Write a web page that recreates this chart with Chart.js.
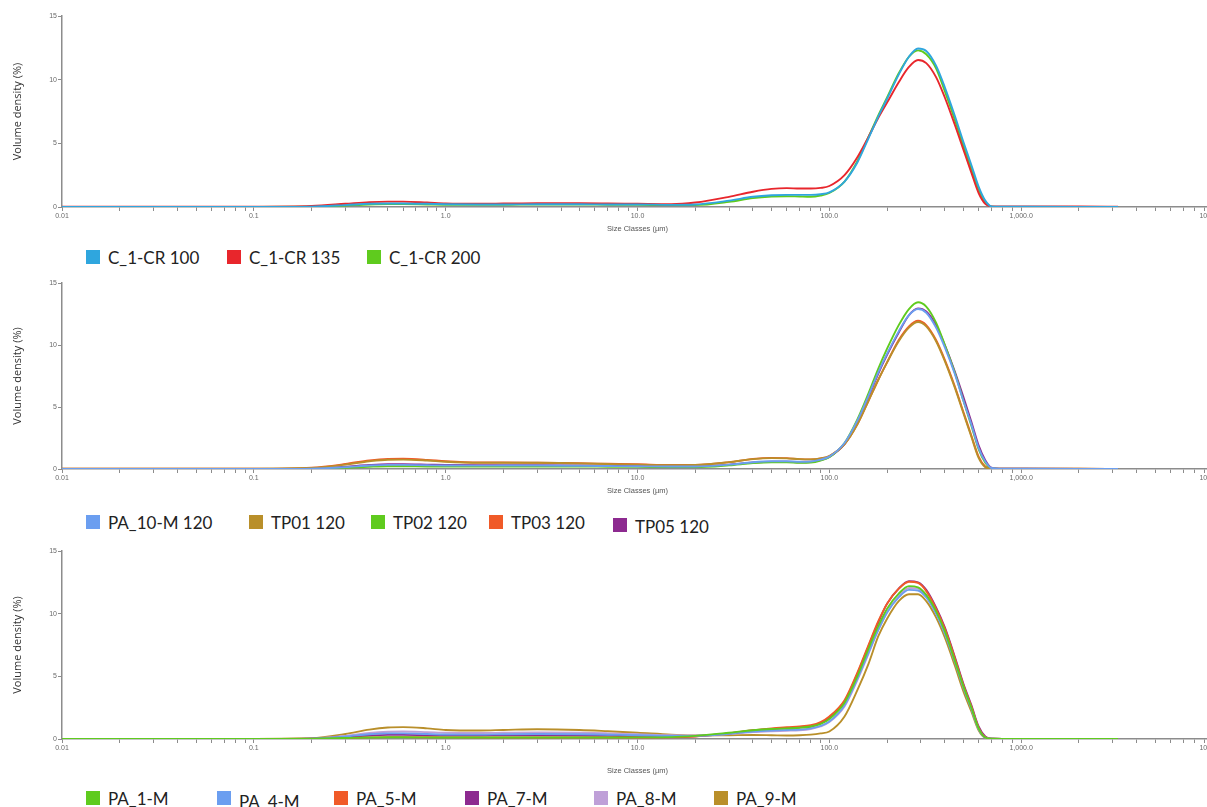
<!DOCTYPE html>
<html>
<head>
<meta charset="utf-8">
<script src="https://cdn.jsdelivr.net/npm/chart.js@4"></script>
<style>
  body { margin: 0; width: 1207px; height: 807px; overflow: hidden; background: #fff; position: relative; }
  .box { position: absolute; left: 0; }
  .legend { position: absolute; left: 0; width: 1207px; height: 22px; font-family: "Lato", "Open Sans", sans-serif; }
  .item { position: absolute; top: 0; height: 22px; display: flex; align-items: center; font-size: 17px; color: #222; white-space: nowrap; }
  .item .sw { width: 14px; height: 14px; margin-right: 8px; display: inline-block; }
  .item .tx { position: relative; }
</style>
</head>
<body>
<div class="box" style="top:6px"><canvas id="chart1" width="1240" height="237"></canvas></div>
<div class="legend" id="legend1" style="top:246px"></div>
<div class="box" style="top:273px"><canvas id="chart2" width="1240" height="232"></canvas></div>
<div class="legend" id="legend2" style="top:511px"></div>
<div class="box" style="top:541px"><canvas id="chart3" width="1240" height="234"></canvas></div>
<div class="legend" id="legend3" style="top:787px"></div>

<script>
// size classes (µm)
const sizes = [0.01, 0.1, 0.2, 0.3, 0.4, 0.5, 0.6, 0.8, 1, 1.5, 2, 3, 5, 7, 10, 15, 20, 30, 40, 50, 60, 70, 80, 90,
  100, 120, 140, 160, 180, 200, 230, 260, 290, 320, 360, 400, 450, 500, 550, 600, 650, 700, 800, 1000, 2000, 3200];

const xDecades = [0.01, 0.1, 1, 10, 100, 1000, 10000];
const xTickLabels = ["0.01", "0.1", "1.0", "10.0", "100.0", "1,000.0", "10,000.0"];
const yTicks = [0, 5, 10, 15];

// Chart 1
const labels1 = ["C_1-CR 100", "C_1-CR 135", "C_1-CR 200"];
const c1cr100 = [0, 0, 0.03, 0.15, 0.25, 0.28, 0.28, 0.25, 0.22, 0.2, 0.2, 0.22, 0.22, 0.2, 0.2, 0.17, 0.2, 0.5, 0.8, 0.92, 0.95, 0.95, 0.95, 1.0,
  1.15, 2.0, 3.5, 5.4, 7.1, 8.5, 10.4, 11.8, 12.45, 12.25, 11.1, 9.4, 7.2, 5.1, 3.3, 1.6, 0.5, 0.05, 0.02, 0.02, 0.01, 0];
const c1cr135 = [0.03, 0.03, 0.08, 0.25, 0.38, 0.42, 0.42, 0.35, 0.28, 0.25, 0.27, 0.3, 0.3, 0.28, 0.25, 0.22, 0.35, 0.8, 1.2, 1.42, 1.48, 1.45, 1.45, 1.5,
  1.65, 2.5, 3.9, 5.5, 7.0, 8.2, 9.8, 11.0, 11.55, 11.3, 10.2, 8.6, 6.5, 4.5, 2.7, 1.1, 0.25, 0.05, 0.04, 0.04, 0.04, 0.03];
const c1cr200 = [0, 0, 0.02, 0.12, 0.2, 0.23, 0.23, 0.2, 0.18, 0.17, 0.17, 0.2, 0.2, 0.18, 0.17, 0.15, 0.15, 0.4, 0.7, 0.82, 0.85, 0.82, 0.8, 0.9,
  1.1, 2.0, 3.6, 5.5, 7.2, 8.6, 10.5, 11.8, 12.3, 12.0, 10.9, 9.1, 6.9, 4.8, 3.0, 1.4, 0.4, 0.03, 0.01, 0.01, 0, 0];

// Chart 2
const labels2 = ["PA_10-M 120", "TP01 120", "TP02 120", "TP03 120", "TP05 120"];
const pa10m120 = [0, 0, 0.03, 0.15, 0.28, 0.33, 0.33, 0.3, 0.28, 0.27, 0.28, 0.28, 0.26, 0.24, 0.22, 0.2, 0.2, 0.35, 0.55, 0.62, 0.62, 0.58, 0.6, 0.75,
  1.0, 2.1, 3.9, 5.9, 7.8, 9.3, 11.1, 12.4, 12.9, 12.6, 11.4, 9.8, 7.7, 5.5, 3.6, 1.7, 0.6, 0.08, 0.02, 0.02, 0.01, 0];
const tp01 = [0.02, 0.02, 0.08, 0.35, 0.62, 0.75, 0.76, 0.68, 0.58, 0.5, 0.5, 0.5, 0.45, 0.4, 0.35, 0.3, 0.32, 0.55, 0.8, 0.88, 0.86, 0.8, 0.78, 0.85,
  1.05, 2.0, 3.6, 5.5, 7.2, 8.6, 10.3, 11.4, 11.85, 11.5, 10.3, 8.7, 6.6, 4.5, 2.6, 0.9, 0.15, 0.03, 0.02, 0.02, 0.02, 0.01];
const tp02 = [0, 0, 0.02, 0.1, 0.18, 0.22, 0.22, 0.2, 0.2, 0.2, 0.2, 0.2, 0.2, 0.18, 0.17, 0.15, 0.15, 0.3, 0.48, 0.55, 0.55, 0.5, 0.52, 0.68,
  0.95, 2.1, 4.0, 6.1, 8.1, 9.7, 11.6, 12.9, 13.45, 13.1, 11.8, 10.0, 7.8, 5.5, 3.5, 1.6, 0.5, 0.05, 0.01, 0.01, 0, 0];
const tp03 = [0.02, 0.02, 0.1, 0.4, 0.7, 0.82, 0.83, 0.74, 0.62, 0.52, 0.52, 0.5, 0.46, 0.42, 0.38, 0.32, 0.33, 0.55, 0.82, 0.9, 0.88, 0.8, 0.78, 0.85,
  1.05, 2.0, 3.6, 5.5, 7.2, 8.6, 10.4, 11.5, 11.95, 11.6, 10.4, 8.8, 6.7, 4.6, 2.7, 1.0, 0.2, 0.03, 0.02, 0.02, 0.02, 0.01];
const tp05 = [0, 0, 0.03, 0.18, 0.32, 0.38, 0.38, 0.35, 0.32, 0.3, 0.3, 0.3, 0.28, 0.26, 0.24, 0.2, 0.2, 0.35, 0.52, 0.58, 0.58, 0.55, 0.57, 0.72,
  0.98, 2.0, 3.8, 5.8, 7.7, 9.2, 11.0, 12.4, 12.95, 12.7, 11.6, 10.0, 7.9, 5.8, 3.8, 1.9, 0.7, 0.1, 0.02, 0.02, 0.01, 0];

// Chart 3
const labels3 = ["PA_1-M", "PA_4-M", "PA_5-M", "PA_7-M", "PA_8-M", "PA_9-M"];
const pa1m = [0, 0, 0.02, 0.08, 0.12, 0.14, 0.14, 0.13, 0.12, 0.12, 0.12, 0.12, 0.12, 0.12, 0.13, 0.15, 0.25, 0.5, 0.7, 0.8, 0.85, 0.9, 1.0, 1.2,
  1.6, 2.9, 5.0, 7.2, 9.0, 10.4, 11.6, 12.2, 12.1, 11.5, 10.2, 8.6, 6.3, 4.2, 2.5, 0.85, 0.12, 0.02, 0.01, 0.01, 0, 0];
const pa4m = [0, 0, 0.03, 0.2, 0.38, 0.45, 0.45, 0.4, 0.36, 0.35, 0.38, 0.4, 0.38, 0.34, 0.3, 0.24, 0.25, 0.42, 0.6, 0.68, 0.72, 0.75, 0.85, 1.05,
  1.4, 2.7, 4.8, 6.9, 8.7, 10.1, 11.3, 11.9, 11.85, 11.3, 10.0, 8.4, 6.2, 4.1, 2.4, 0.8, 0.12, 0.02, 0.01, 0.01, 0, 0];
const pa5m = [0, 0, 0.02, 0.08, 0.13, 0.15, 0.15, 0.14, 0.13, 0.12, 0.12, 0.12, 0.12, 0.12, 0.12, 0.13, 0.2, 0.45, 0.7, 0.85, 0.95, 1.0, 1.1, 1.35,
  1.8, 3.1, 5.3, 7.5, 9.4, 10.8, 12.0, 12.55, 12.45, 11.8, 10.4, 8.8, 6.5, 4.3, 2.6, 0.9, 0.15, 0.02, 0.01, 0.01, 0, 0];
const pa7m = [0, 0, 0.03, 0.15, 0.28, 0.33, 0.33, 0.3, 0.28, 0.28, 0.3, 0.3, 0.28, 0.25, 0.22, 0.18, 0.22, 0.45, 0.68, 0.8, 0.88, 0.92, 1.0, 1.25,
  1.7, 3.0, 5.2, 7.4, 9.3, 10.8, 12.0, 12.6, 12.5, 11.9, 10.5, 8.9, 6.6, 4.4, 2.7, 1.0, 0.2, 0.02, 0.01, 0.01, 0, 0];
const pa8m = [0, 0, 0.04, 0.25, 0.48, 0.58, 0.6, 0.55, 0.5, 0.48, 0.5, 0.52, 0.5, 0.45, 0.38, 0.3, 0.28, 0.4, 0.55, 0.62, 0.66, 0.7, 0.8, 1.0,
  1.35, 2.6, 4.7, 6.8, 8.7, 10.1, 11.4, 12.05, 12.0, 11.4, 10.1, 8.5, 6.3, 4.2, 2.5, 0.85, 0.12, 0.02, 0.01, 0.01, 0, 0];
const pa9m = [0, 0, 0.06, 0.4, 0.75, 0.92, 0.95, 0.85, 0.72, 0.68, 0.72, 0.78, 0.72, 0.62, 0.5, 0.35, 0.28, 0.3, 0.32, 0.3, 0.28, 0.3, 0.35, 0.45,
  0.6, 1.8, 3.9, 6.0, 8.2, 9.6, 11.0, 11.55, 11.55, 11.0, 9.7, 8.1, 5.9, 3.8, 2.2, 0.7, 0.1, 0.02, 0.01, 0.01, 0, 0];

// colours and legend placement
const colors1 = ["#2fa6de", "#e8262c", "#5fcb1e"];
const colors2 = ["#6b9ef0", "#b98f2a", "#5fcb1e", "#f05a28", "#8d2a90"];
const colors3 = ["#5fcb1e", "#6b9ef0", "#f05a28", "#8d2a90", "#bfa0d8", "#b98f2a"];
const legendX1 = [86, 227, 367];
const legendX2 = [86, 249, 371, 489, 613];
const legendX3 = [86, 217, 334, 465, 594, 714];
// small vertical offsets: [whole item, text only]
const legendDy1 = [[0, 0], [0, 0], [0, 0]];
const legendDy2 = [[0, 0], [0, 0], [0, 0], [0, 0], [3, 1]];
const legendDy3 = [[0, 0], [0, 3], [0, 0], [0, 0], [0, 0], [0, 0]];

function xTicks(scale) {
  const ticks = [];
  for (let d = -2; d < 4; d++) {
    for (let m = 1; m < 10; m++) {
      ticks.push({ value: m * Math.pow(10, d) });
    }
  }
  ticks.push({ value: 10000 });
  scale.ticks = ticks;
}

function xLabel(value) {
  const i = xDecades.findIndex((d) => Math.abs(d - value) / d < 1e-6);
  return i >= 0 ? xTickLabels[i] : "";
}

function makeChart(id, labels, series, colors, titlePad) {
  const ctx = document.getElementById(id).getContext("2d");
  const datasets = series.map((vals, i) => ({
    label: labels[i],
    data: sizes.map((s, j) => ({ x: s, y: vals[j] })),
    borderColor: colors[i],
    backgroundColor: colors[i],
    borderWidth: 1.9,
    pointRadius: 0,
    fill: false,
    cubicInterpolationMode: "monotone",
  }));

  return new Chart(ctx, {
    type: "line",
    data: { datasets: datasets },
    options: {
      responsive: false,
      animation: false,
      layout: { padding: { top: 10, right: 27, bottom: 0, left: 0 } },
      plugins: { legend: { display: false }, tooltip: { enabled: false } },
      scales: {
        x: {
          type: "logarithmic",
          min: 0.01,
          max: 10000,
          afterBuildTicks: xTicks,
          afterFit: (scale) => { scale.height = 36; },
          border: { color: "#8c8c8c", width: 1.5 },
          grid: { drawOnChartArea: false, color: "#8c8c8c", tickLength: 4 },
          ticks: {
            autoSkip: false,
            maxRotation: 0,
            padding: 1,
            color: "#6a6a6a",
            font: { family: "Liberation Sans Narrow, Liberation Sans", size: 7 },
            callback: xLabel,
          },
          title: {
            display: true,
            text: "Size Classes (µm)",
            color: "#555",
            font: { family: "Liberation Sans Narrow, Liberation Sans", size: 7.5 },
            padding: { top: 0, bottom: titlePad },
          },
        },
        y: {
          min: 0,
          max: 15,
          afterBuildTicks: (scale) => { scale.ticks = yTicks.map((v) => ({ value: v })); },
          afterFit: (scale) => { scale.width = 62; },
          border: { color: "#8c8c8c", width: 1.5 },
          grid: { drawOnChartArea: false, color: "#8c8c8c", tickLength: 4 },
          ticks: {
            padding: 1,
            color: "#6a6a6a",
            font: { family: "Liberation Sans Narrow, Liberation Sans", size: 7 },
          },
          title: {
            display: true,
            text: "Volume density (%)",
            color: "#333",
            font: { family: "Open Sans", size: 11 },
            padding: { top: 11, bottom: 0 },
          },
        },
      },
    },
  });
}

function makeLegend(id, chart, xs, dys) {
  const box = document.getElementById(id);
  chart.data.datasets.forEach((ds, i) => {
    const item = document.createElement("div");
    item.className = "item";
    item.style.left = xs[i] + "px";
    item.style.top = dys[i][0] + "px";
    const sw = document.createElement("span");
    sw.className = "sw";
    sw.style.background = ds.borderColor;
    const tx = document.createElement("span");
    tx.className = "tx";
    tx.style.top = dys[i][1] + "px";
    tx.textContent = ds.label;
    item.appendChild(sw);
    item.appendChild(tx);
    box.appendChild(item);
  });
}

const chart1 = makeChart("chart1", labels1, [c1cr100, c1cr135, c1cr200], colors1, 10);
const chart2 = makeChart("chart2", labels2, [pa10m120, tp01, tp02, tp03, tp05], colors2, 10);
const chart3 = makeChart("chart3", labels3, [pa1m, pa4m, pa5m, pa7m, pa8m, pa9m], colors3, 0);

makeLegend("legend1", chart1, legendX1, legendDy1);
makeLegend("legend2", chart2, legendX2, legendDy2);
makeLegend("legend3", chart3, legendX3, legendDy3);
</script>
</body>
</html>
